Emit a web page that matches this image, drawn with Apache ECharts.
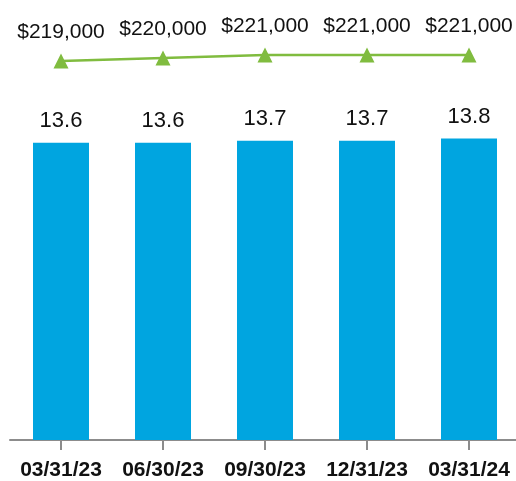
<!DOCTYPE html>
<html>
<head>
<meta charset="utf-8">
<script src="https://cdn.jsdelivr.net/npm/echarts@6/dist/echarts.min.js"></script>
<style>
  html, body { margin: 0; padding: 0; background: #fff; }
  #chart { width: 516px; height: 481px; }
</style>
</head>
<body>
<div id="chart"></div>
<script>
const dates = ['03/31/23', '06/30/23', '09/30/23', '12/31/23', '03/31/24'];
const barValues = [13.6, 13.6, 13.7, 13.7, 13.8];
const lineValues = [219000, 220000, 221000, 221000, 221000];

const chart = echarts.init(document.getElementById('chart'));
const font = '"Liberation Sans", Arial, sans-serif';

const option = {
    animation: false,
    grid: { left: 10, width: 510, top: 3, bottom: 41, outerBoundsMode: 'none', containLabel: false },
    xAxis: {
        type: 'category',
        data: dates,
        axisLine: { show: true, lineStyle: { color: '#8c8c8c', width: 2 } },
        axisTick: { show: true, alignWithLabel: true, interval: 0, length: 10, lineStyle: { color: '#8c8c8c', width: 2 } },
        axisLabel: {
            interval: 0,
            margin: 20,
            color: '#111',
            fontFamily: font,
            fontWeight: 'bold',
            fontSize: 21
        }
    },
    yAxis: [
        { type: 'value', min: 0, max: 20, show: false },
        { type: 'value', min: 92670, max: 238330, show: false }
    ],
    series: [
        {
            type: 'bar',
            data: barValues,
            barWidth: 56,
            itemStyle: { color: '#00a5e0' },
            label: {
                show: true,
                position: 'top',
                distance: 11,
                color: '#111',
                fontFamily: font,
                fontSize: 22,
                formatter: p => p.value.toFixed(1)
            }
        },
        {
            type: 'line',
            yAxisIndex: 1,
            data: lineValues,
            symbol: 'triangle',
            symbolSize: [15, 15],
            lineStyle: { color: '#80bc3f', width: 2.5 },
            itemStyle: { color: '#80bc3f' },
            label: {
                show: true,
                position: 'top',
                distance: 11,
                color: '#111',
                fontFamily: font,
                fontSize: 21,
                formatter: p => '$' + p.value.toLocaleString('en-US')
            }
        }
    ]
};

chart.setOption(option);
</script>
</body>
</html>
